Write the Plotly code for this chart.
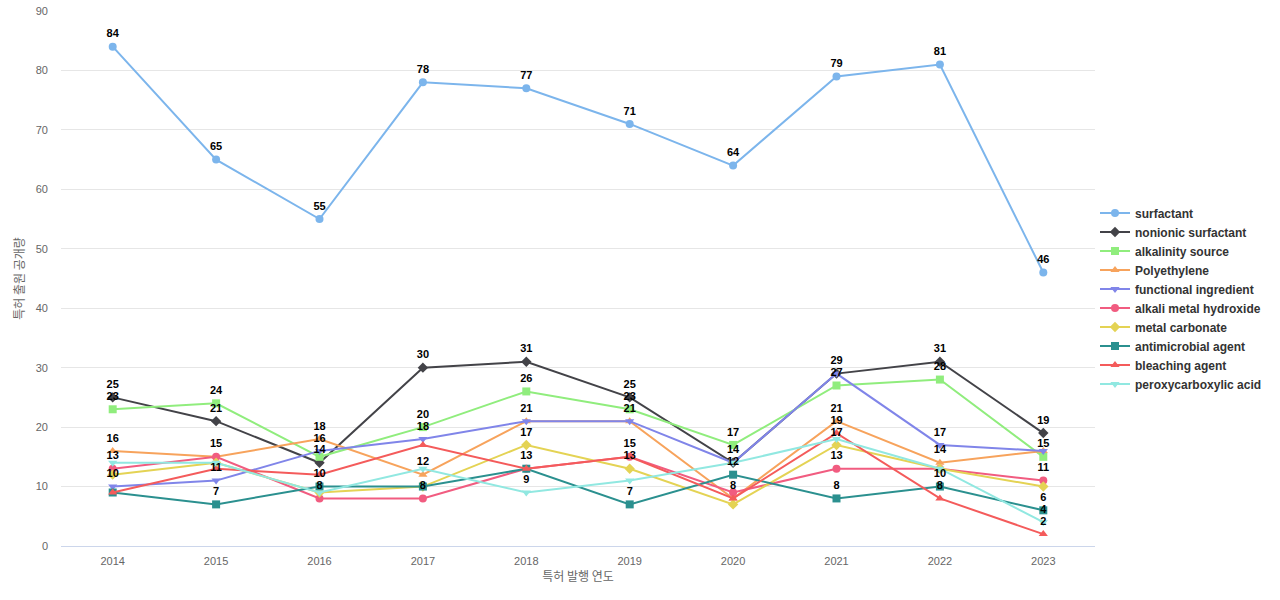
import plotly.graph_objects as go

# ---------------- data ----------------
years = ["2014", "2015", "2016", "2017", "2018", "2019", "2020", "2021", "2022", "2023"]

series_names = [
    "surfactant", "nonionic surfactant", "alkalinity source", "Polyethylene",
    "functional ingredient", "alkali metal hydroxide", "metal carbonate",
    "antimicrobial agent", "bleaching agent", "peroxycarboxylic acid",
]

surfactant = [84, 65, 55, 78, 77, 71, 64, 79, 81, 46]
nonionic_surfactant = [25, 21, 14, 30, 31, 25, 14, 29, 31, 19]
alkalinity_source = [23, 24, 15, 20, 26, 23, 17, 27, 28, 15]
polyethylene = [16, 15, 18, 12, 21, 21, 8, 21, 14, 16]
functional_ingredient = [10, 11, 16, 18, 21, 21, 14, 29, 17, 16]
alkali_metal_hydroxide = [13, 15, 8, 8, 13, 15, 9, 13, 13, 11]
metal_carbonate = [12, 14, 9, 10, 17, 13, 7, 17, 13, 10]
antimicrobial_agent = [9, 7, 10, 10, 13, 7, 12, 8, 10, 6]
bleaching_agent = [9, 13, 12, 17, 13, 15, 8, 19, 8, 2]
peroxycarboxylic_acid = [14, 14, 9, 13, 9, 11, 14, 18, 13, 4]

series_values = [
    surfactant, nonionic_surfactant, alkalinity_source, polyethylene,
    functional_ingredient, alkali_metal_hydroxide, metal_carbonate,
    antimicrobial_agent, bleaching_agent, peroxycarboxylic_acid,
]

x_title = "특허 발행 연도"
y_title = "특허 출원 공개량"

# ---------------- styles ----------------
colors = ["#7cb5ec", "#434348", "#90ed7d", "#f7a35c", "#8085e9",
          "#f15c80", "#e4d354", "#2b908f", "#f45b5b", "#91e8e1"]
symbols = ["circle", "diamond", "square", "triangle-up", "triangle-down"]

# labels hidden because they collide with others (overlap handling of the original)
extra_hidden = {("bleaching agent", "2015"), ("bleaching agent", "2016"),
                ("metal carbonate", "2017"), ("antimicrobial agent", "2017"),
                ("peroxycarboxylic acid", "2019")}

# greedy overlap hiding, series order
label_text = [[""] * len(years) for _ in series_names]
for j, yr in enumerate(years):
    shown = []
    for i, name in enumerate(series_names):
        v = series_values[i][j]
        if (name, yr) in extra_hidden:
            continue
        if all(abs(v - s) >= 2 for s in shown):
            shown.append(v)
            label_text[i][j] = str(v)

fig = go.Figure()
for i, name in enumerate(series_names):
    fig.add_trace(go.Scatter(
        x=years, y=series_values[i], name=name, mode="lines+markers",
        line=dict(color=colors[i], width=2),
        marker=dict(symbol=symbols[i % 5], size=8, color=colors[i]),
        hoverinfo="x+y+name",
    ))
# data labels drawn on top of all lines
for i, name in enumerate(series_names):
    fig.add_trace(go.Scatter(
        x=years, y=series_values[i], mode="markers+text", showlegend=False,
        text=label_text[i], textposition="top center",
        textfont=dict(family="Liberation Sans, Arial, sans-serif", size=11,
                      color="#000000", weight="bold"),
        marker=dict(size=9, color="rgba(0,0,0,0)"),
        hoverinfo="skip",
    ))

fig.update_layout(
    width=1280, height=600,
    margin=dict(l=61, r=185, t=11, b=54, autoexpand=False),
    paper_bgcolor="#ffffff", plot_bgcolor="#ffffff",
    font=dict(family="Liberation Sans, Arial, Noto Sans CJK KR, sans-serif", color="#666666"),
    showlegend=True,
    legend=dict(
        x=1.0, xanchor="left", y=0.4626, yanchor="middle",
        font=dict(size=12, color="#333333", weight="bold",
                  family="Liberation Sans, Arial, sans-serif"),
        bgcolor="rgba(0,0,0,0)", tracegroupgap=0,
    ),
)
fig.update_xaxes(
    type="category", range=[-0.5, 9.5], showgrid=False, zeroline=False,
    showline=True, linecolor="#ccd6eb", linewidth=1,
    tickfont=dict(size=11, color="#666666"), ticklabelstandoff=5,
    title=dict(text=x_title, font=dict(size=12, color="#666666",
               family="Noto Sans CJK KR, sans-serif"), standoff=6),
)
fig.update_yaxes(
    range=[0, 90], dtick=10, tick0=0, showgrid=True, gridcolor="#e6e6e6",
    gridwidth=1, zeroline=False, showline=False,
    tickfont=dict(size=11, color="#666666"), ticklabelstandoff=12,
    title=dict(text=y_title, font=dict(size=12, color="#666666",
               family="Noto Sans CJK KR, sans-serif"), standoff=8),
)

fig.write_html("out.html", config={"displayModeBar": False},
               post_script="document.body.style.margin='0';")
